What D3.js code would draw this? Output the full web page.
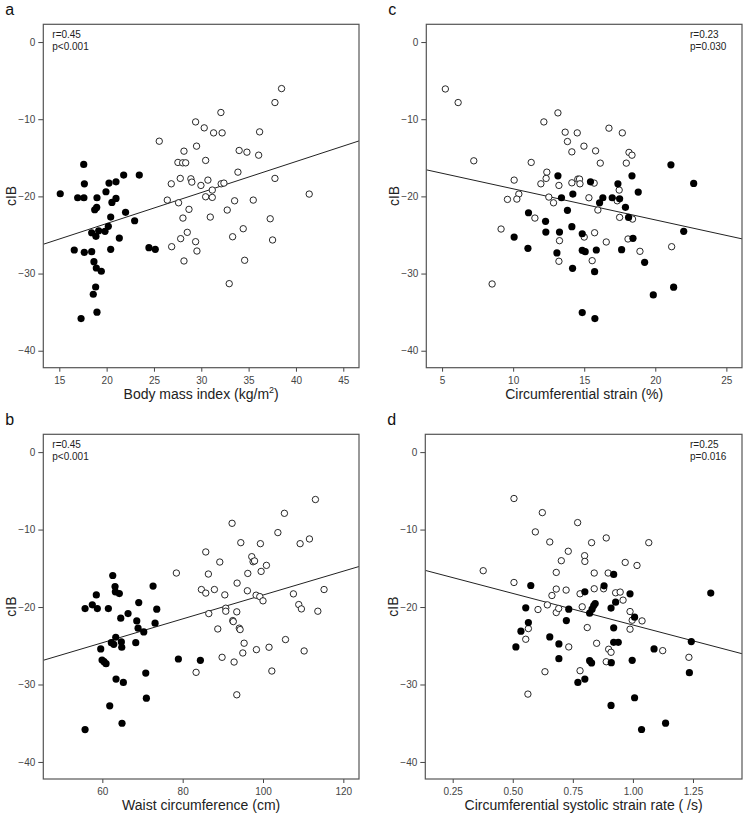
<!DOCTYPE html>
<html><head><meta charset="utf-8">
<script src="https://cdn.jsdelivr.net/npm/d3@7"></script>
<style>body{margin:0;background:#fff}svg{display:block;font-family:"Liberation Sans",Arial,Helvetica,sans-serif}</style>
</head><body><svg id="c" width="744" height="819"></svg>
<script>
// ---- Data ----
// Panel a: BMI vs cIB
const bmiOpen = [[38.48,-6.03],[37.78,-7.84],[32.07,-9.13],[29.4,-10.35],[30.31,-11.12],[31.3,-11.77],[32.2,-11.77],[36.16,-11.64],[25.56,-12.85],[29.5,-13.49],[28.17,-14.14],[34.0,-14.05],[34.82,-14.27],[36.06,-14.66],[27.53,-15.6],[28.03,-15.65],[28.35,-15.65],[30.46,-15.34],[33.87,-16.86],[37.78,-17.67],[26.83,-18.37],[27.78,-17.67],[28.9,-17.72],[29.0,-18.15],[29.96,-18.58],[30.7,-17.89],[31.16,-19.18],[32.1,-18.37],[32.39,-18.28],[41.4,-19.7],[30.46,-20.05],[31.16,-20.13],[26.41,-20.48],[27.6,-20.83],[33.52,-20.57],[35.49,-20.48],[28.7,-21.68],[28.06,-22.81],[30.95,-22.68],[32.74,-21.77],[37.28,-22.9],[28.52,-24.66],[27.82,-25.48],[29.4,-25.87],[29.54,-27.08],[26.87,-26.52],[28.17,-28.37],[33.31,-25.23],[34.43,-24.19],[34.58,-28.28],[37.53,-25.65],[32.95,-31.31]];
const bmiFilled = [[17.58,-15.86],[17.65,-18.37],[20.25,-18.28],[20.99,-18.11],[21.8,-17.24],[23.45,-17.24],[15.1,-19.66],[16.94,-20.18],[17.6,-20.18],[18.98,-20.18],[19.93,-19.4],[20.99,-20.26],[20.56,-20.78],[18.95,-21.43],[18.74,-21.73],[22.0,-22.07],[22.96,-23.16],[20.43,-22.68],[20.18,-23.88],[19.83,-24.53],[19.16,-24.45],[18.42,-24.71],[18.87,-25.17],[21.34,-25.4],[20.43,-26.86],[16.58,-26.95],[17.64,-27.25],[18.42,-27.17],[24.47,-26.65],[25.14,-26.86],[18.66,-28.46],[18.91,-29.28],[19.44,-29.7],[18.84,-31.74],[18.59,-32.68],[18.98,-35.0],[17.3,-35.83]];
// Panel b: waist circumference vs cIB
const waistOpen = [[113.05,-6.12],[105.33,-7.9],[92.3,-9.19],[103.7,-10.39],[111.56,-11.21],[109.24,-11.82],[94.47,-11.69],[99.35,-11.82],[85.75,-12.89],[97.2,-13.5],[97.53,-14.15],[97.9,-14.05],[89.24,-14.19],[100.85,-14.62],[78.43,-15.61],[86.4,-15.74],[99.53,-15.4],[93.55,-16.91],[96.21,-15.66],[84.66,-17.74],[85.75,-18.2],[87.9,-17.74],[90.49,-18.43],[96.11,-17.9],[98.28,-18.47],[99.2,-18.65],[100.0,-19.2],[107.57,-18.3],[115.2,-17.74],[86.5,-20.85],[90.73,-20.15],[90.73,-20.54],[93.47,-20.62],[108.9,-19.68],[109.56,-20.24],[113.65,-20.54],[88.74,-22.83],[92.47,-21.75],[92.6,-21.88],[94.1,-22.73],[94.3,-22.91],[95.3,-24.67],[94.97,-25.93],[98.36,-25.5],[101.5,-25.19],[105.6,-24.2],[110.24,-25.67],[89.81,-26.49],[92.8,-27.1],[83.34,-28.43],[102.2,-28.26],[93.47,-31.33]];
const waistFilled = [[62.59,-15.93],[63.16,-17.35],[63.24,-18.04],[64.23,-18.26],[72.63,-17.3],[58.5,-18.43],[57.5,-19.72],[55.7,-20.2],[58.75,-20.2],[61.5,-20.2],[69.06,-19.42],[73.55,-20.28],[64.58,-21.44],[66.4,-20.84],[68.57,-21.79],[68.9,-22.73],[73.13,-22.08],[70.31,-23.21],[63.34,-23.9],[64.73,-24.51],[62.24,-24.6],[62.84,-24.81],[64.83,-25.19],[68.32,-24.6],[59.6,-25.41],[59.93,-26.84],[60.42,-27.06],[60.92,-27.31],[78.93,-26.71],[84.41,-26.88],[63.41,-29.3],[65.23,-29.73],[70.81,-28.52],[70.96,-31.76],[61.84,-32.75],[64.9,-35.0],[55.7,-35.82]];
// Panel c: circumferential strain vs cIB
const strainOpen = [[5.23,-6.08],[6.13,-7.84],[13.15,-9.18],[12.16,-10.35],[13.66,-11.68],[14.51,-11.77],[16.74,-11.16],[17.68,-11.77],[13.82,-12.89],[14.98,-13.49],[14.13,-14.23],[15.8,-14.1],[18.15,-14.3],[18.36,-14.66],[7.23,-15.39],[11.27,-15.6],[16.13,-15.69],[17.96,-15.69],[12.37,-16.86],[12.32,-17.67],[10.07,-17.89],[11.95,-18.37],[13.22,-18.58],[14.13,-18.24],[14.55,-17.76],[14.67,-17.76],[14.7,-18.37],[15.7,-18.28],[17.46,-19.18],[10.4,-19.7],[12.51,-20.09],[15.33,-20.18],[9.6,-20.39],[10.26,-20.35],[12.84,-20.83],[17.32,-20.57],[15.96,-21.77],[17.49,-22.72],[18.4,-22.94],[11.53,-22.81],[9.15,-24.23],[15.0,-25.27],[15.73,-24.71],[13.26,-25.74],[16.55,-25.91],[18.08,-25.52],[18.92,-27.12],[21.15,-26.52],[13.22,-28.41],[15.56,-28.33],[8.52,-31.35]];
const strainFilled = [[13.15,-17.34],[15.44,-18.11],[17.37,-18.37],[18.36,-17.34],[21.1,-15.91],[22.7,-18.32],[14.2,-19.7],[18.8,-19.44],[13.4,-20.18],[16.31,-20.18],[16.97,-20.18],[17.49,-20.31],[16.08,-20.83],[17.9,-21.42],[13.82,-21.81],[18.12,-22.72],[11.08,-22.12],[12.28,-23.23],[14.13,-23.93],[12.3,-24.62],[13.26,-24.62],[14.86,-24.84],[10.07,-25.27],[18.43,-25.44],[22.0,-24.53],[11.04,-26.73],[13.08,-27.33],[14.86,-26.99],[15.07,-27.17],[15.85,-26.95],[17.63,-26.91],[19.25,-28.54],[14.18,-29.32],[15.73,-29.75],[21.29,-31.77],[19.86,-32.77],[14.86,-35.06],[15.75,-35.83]];
// Panel d: circumferential systolic strain rate vs cIB
const rateOpen = [[0.505,-5.99],[0.623,-7.81],[0.770,-9.1],[0.594,-10.3],[0.889,-11.08],[0.654,-11.6],[0.828,-11.69],[1.066,-11.69],[0.731,-12.8],[0.799,-13.37],[0.8,-14.11],[0.702,-14.02],[0.968,-14.24],[1.017,-14.63],[0.377,-15.31],[0.681,-15.53],[0.839,-15.61],[0.897,-15.61],[0.505,-16.83],[0.681,-17.68],[0.722,-17.81],[0.663,-18.51],[0.78,-18.29],[0.839,-17.64],[0.878,-17.64],[0.928,-18.16],[0.947,-18.07],[0.959,-19.11],[0.644,-19.72],[0.605,-20.32],[0.789,-19.97],[0.681,-20.71],[0.691,-20.19],[0.988,-20.58],[0.997,-21.7],[1.038,-21.79],[0.988,-22.86],[0.81,-22.65],[0.565,-22.78],[0.554,-24.16],[0.733,-25.15],[0.849,-24.68],[0.899,-25.45],[0.909,-25.84],[0.889,-27.06],[1.124,-25.63],[1.233,-26.49],[0.634,-28.35],[0.78,-28.22],[0.563,-31.24]];
const rateFilled = [[0.575,-17.22],[0.8,-18.03],[0.88,-17.26],[0.92,-15.79],[0.988,-18.29],[1.324,-18.2],[0.928,-19.37],[0.843,-19.55],[0.837,-19.8],[0.83,-20.27],[0.82,-20.79],[0.554,-20.1],[0.733,-20.27],[0.909,-20.14],[1.007,-21.31],[0.565,-22.0],[0.723,-21.75],[0.534,-23.12],[0.92,-22.69],[0.654,-23.86],[0.513,-25.15],[0.692,-24.76],[0.92,-24.55],[0.939,-24.55],[1.243,-24.46],[1.088,-25.41],[0.692,-26.67],[0.82,-26.93],[0.828,-27.22],[0.91,-27.18],[0.997,-26.88],[1.235,-28.48],[0.8,-29.3],[0.771,-29.73],[1.007,-31.71],[0.909,-32.7],[1.136,-34.99],[1.036,-35.81]];

// Fit lines: [intercept, slope]
const fitA = [-31.55, 0.4016];
const fitB = [-33.85, 0.154];
const fitC = [-14.99, -0.4029];
const fitD = [-14.16, -8.16];

// Axis domains and ticks
const yDomain = [-42.2, 2.3];
const yTicks = [0, -10, -20, -30, -40];
const xDomainA = [13.31, 46.66], xTicksA = [15, 20, 25, 30, 35, 40, 45];
const xDomainB = [45.3, 123.9], xTicksB = [60, 80, 100, 120];
const xDomainC = [3.89, 26.1], xTicksC = [5, 10, 15, 20, 25];
const xDomainD = [0.136, 1.454], xTicksD = [0.25, 0.50, 0.75, 1.00, 1.25];

const panelLabels = ["a", "b", "c", "d"];
const stats = [["r=0.45", "p<0.001"], ["r=0.45", "p<0.001"], ["r=0.23", "p=0.030"], ["r=0.25", "p=0.016"]];
const yLabel = "cIB";

// ---- Layout ----
const svg = d3.select("#c");
const panels = [
  {lab: panelLabels[0], open: bmiOpen, filled: bmiFilled, fit: fitA, xd: xDomainA, xt: xTicksA, fmt: d3.format("d"),
   box: [43.3, 24.3, 359, 367.7], st: stats[0], stRight: false, title: "bmi"},
  {lab: panelLabels[1], open: waistOpen, filled: waistFilled, fit: fitB, xd: xDomainB, xt: xTicksB, fmt: d3.format("d"),
   box: [43.3, 434.3, 359, 779], st: stats[1], stRight: false, title: "Waist circumference (cm)"},
  {lab: panelLabels[2], open: strainOpen, filled: strainFilled, fit: fitC, xd: xDomainC, xt: xTicksC, fmt: d3.format("d"),
   box: [426.3, 24.3, 742, 367.7], st: stats[2], stRight: true, title: "Circumferential strain (%)"},
  {lab: panelLabels[3], open: rateOpen, filled: rateFilled, fit: fitD, xd: xDomainD, xt: xTicksD, fmt: d3.format(".2f"),
   box: [425.3, 434.3, 742, 779], st: stats[3], stRight: true, title: "Circumferential systolic strain rate ( /s)"}
];

const axisCol = "#444";
panels.forEach(p => {
  const [x0, y0, x1, y1] = p.box;
  const x = d3.scaleLinear().domain(p.xd).range([x0, x1]);
  const y = d3.scaleLinear().domain(yDomain).range([y1, y0]);
  const g = svg.append("g");

  // panel letter
  g.append("text").attr("x", x0 - 38 + (p.stRight ? 0 : 0)).attr("y", y0 - 9)
    .attr("font-size", 16).attr("fill", "#111").text(p.lab);

  // axes
  const ya = g.append("g").attr("transform", `translate(${x0},0)`)
    .call(d3.axisLeft(y).tickValues(yTicks).tickSize(5).tickPadding(3).tickFormat(d3.format("d")));
  const xa = g.append("g").attr("transform", `translate(0,${y1})`)
    .call(d3.axisBottom(x).tickValues(p.xt).tickSize(4).tickPadding(5).tickFormat(p.fmt));
  [ya, xa].forEach(a => {
    a.select(".domain").remove();
    a.selectAll("line").attr("stroke", axisCol);
    a.selectAll("text").attr("font-size", 10).attr("fill", axisCol).attr("font-family", "Liberation Sans, Arial, sans-serif");
  });

  // clip
  const cid = "clip" + p.lab;
  svg.append("clipPath").attr("id", cid).append("rect")
    .attr("x", x0).attr("y", y0).attr("width", x1 - x0).attr("height", y1 - y0);
  const inner = g.append("g").attr("clip-path", `url(#${cid})`);

  // fit line
  inner.append("line")
    .attr("x1", x(p.xd[0])).attr("y1", y(p.fit[0] + p.fit[1] * p.xd[0]))
    .attr("x2", x(p.xd[1])).attr("y2", y(p.fit[0] + p.fit[1] * p.xd[1]))
    .attr("stroke", "#222").attr("stroke-width", 1);

  // points
  inner.selectAll("circle.o").data(p.open).join("circle").attr("class", "o")
    .attr("cx", d => x(d[0])).attr("cy", d => y(d[1])).attr("r", 3.2)
    .attr("fill", "#fff").attr("stroke", "#111").attr("stroke-width", 0.9);
  inner.selectAll("circle.f").data(p.filled).join("circle").attr("class", "f")
    .attr("cx", d => x(d[0])).attr("cy", d => y(d[1])).attr("r", 3.6)
    .attr("fill", "#000");

  // frame
  g.append("rect").attr("x", x0).attr("y", y0).attr("width", x1 - x0).attr("height", y1 - y0)
    .attr("fill", "none").attr("stroke", "#555").attr("stroke-width", 1.2);

  // stats
  const sx = p.stRight ? x1 - 52 : x0 + 9;
  g.append("text").attr("x", sx).attr("y", y0 + 14).attr("font-size", 10).attr("fill", "#222").text(p.st[0]);
  g.append("text").attr("x", sx).attr("y", y0 + 26).attr("font-size", 10).attr("fill", "#222").text(p.st[1]);

  // y title
  g.append("text").attr("transform", `translate(${x0 - 27},${(y0 + y1) / 2}) rotate(-90)`)
    .attr("text-anchor", "middle").attr("font-size", 14).attr("fill", "#222").text(yLabel);

  // x title
  const xt = g.append("text").attr("x", (x0 + x1) / 2).attr("y", y1 + 31)
    .attr("text-anchor", "middle").attr("font-size", 14).attr("fill", "#222");
  if (p.title === "bmi") {
    xt.append("tspan").text("Body mass index (kg/m");
    xt.append("tspan").attr("font-size", 9).attr("dy", -6).text("2");
    xt.append("tspan").attr("dy", 6).text(")");
  } else {
    xt.text(p.title);
  }
});
</script></body></html>
